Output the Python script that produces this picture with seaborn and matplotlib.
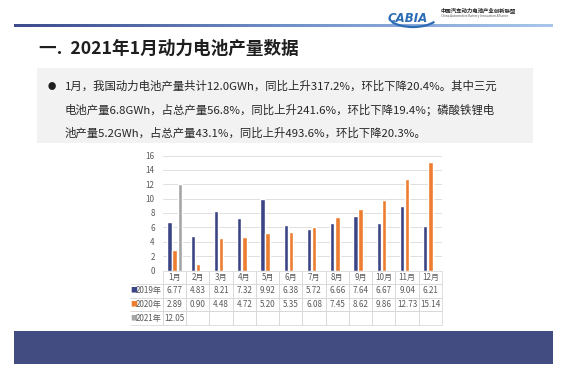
import matplotlib.pyplot as plt
import pandas as pd
import seaborn as sns
from matplotlib.colors import LinearSegmentedColormap
from matplotlib.patches import Arc, Rectangle
import numpy as np

# 数据
months = ["1月", "2月", "3月", "4月", "5月", "6月",
          "7月", "8月", "9月", "10月", "11月", "12月"]
years = ["2019年", "2020年", "2021年"]
prod_2019 = [6.77, 4.83, 8.21, 7.32, 9.92, 6.38, 5.72, 6.66, 7.64, 6.67, 9.04, 6.21]
prod_2020 = [2.89, 0.90, 4.48, 4.72, 5.20, 5.35, 6.08, 7.45, 8.62, 9.86, 12.73, 15.14]
prod_2021 = [12.05]

palette = {"2019年": "#3b4586", "2020年": "#ed7d31", "2021年": "#a5a5a5"}

title = "一.  2021年1月动力电池产量数据"
bullet_lines = [
    "1月，我国动力电池产量共计12.0GWh，同比上升317.2%，环比下降20.4%。其中三元",
    "电池产量6.8GWh，占总产量56.8%，同比上升241.6%，环比下降19.4%；磷酸铁锂电",
    "池产量5.2GWh，占总产量43.1%，同比上升493.6%，环比下降20.3%。",
]

sns.set_theme(style="white")
plt.rcParams["font.family"] = ["Noto Sans CJK SC", "DejaVu Sans"]
plt.rcParams["axes.unicode_minus"] = False

rows = []
for year, values in zip(years, [prod_2019, prod_2020, prod_2021]):
    for m, v in zip(months, values):
        rows.append({"月份": m, "年份": year, "产量": v})
df = pd.DataFrame(rows)

fig = plt.figure(figsize=(5.67, 3.79), dpi=100)

# 幻灯片背景装饰（像素坐标）
bg = fig.add_axes([0, 0, 1, 1])
bg.set_xlim(0, 567)
bg.set_ylim(379, 0)
bg.axis("off")

grad = np.linspace(0, 1, 256).reshape(1, -1)
cmap = LinearSegmentedColormap.from_list("hdr", ["#3d4b8c", "#6f8fc8", "#a9c6ea"])
bg.imshow(grad, cmap=cmap, aspect="auto", extent=[14, 553, 27.3, 25.2])
bg.add_patch(Rectangle((14, 330.5), 539, 33.5, color="#424c80", lw=0))
bg.add_patch(Rectangle((37, 68), 496, 75, color="#f2f2f2", lw=0))

bg.add_patch(Arc((413, 16), 50, 22, theta1=15, theta2=165, color="#2b6cb5", lw=1.6))
bg.text(408, 18, "CABIA", fontsize=8.5, fontstyle="italic", fontweight="bold",
        color="#2b6cb5", ha="center", va="center", family="DejaVu Sans")
bg.text(441, 10, "中国汽车动力电池产业创新联盟", fontsize=3.9, fontweight="bold",
        color="#222222", va="center")
bg.text(441, 16, "China Automotive Battery Innovation Alliance", fontsize=2.3,
        color="#555555", va="center")

bg.text(39, 49, title, fontsize=12.7, fontweight="bold", color="#1e1e1e", va="center")
bg.text(52, 86, "●", fontsize=6, color="#1e1e1e", va="center", ha="center")
for y, line in zip([86, 110, 133], bullet_lines):
    bg.text(65, y, line, fontsize=8.2, color="#262626", va="center")

# 柱状图
ax = fig.add_axes([163 / 567, 1 - 270.5 / 379, 279 / 567, 115 / 379])
sns.barplot(data=df, x="月份", y="产量", hue="年份", order=months,
            hue_order=years, palette=palette, saturation=1,
            width=0.66, gap=0.16, legend=False, ax=ax)
ax.set_ylim(0, 16)
ax.set_yticks(range(0, 17, 2))
ax.yaxis.grid(True, color="#d9d9d9", linewidth=0.6)
ax.set_axisbelow(True)
for s in ax.spines.values():
    s.set_visible(False)
ax.set_xlabel("")
ax.set_ylabel("")
ax.set_xticks([])
ax.tick_params(axis="y", length=0, pad=6, labelsize=5.8, labelcolor="#595959")

# 数据表
label_w = 33 / 279
tbl_h = 54.5 / 115
cell_text = [
    [""] + [f"{v:.2f}" for v in prod_2019],
    [""] + [f"{v:.2f}" for v in prod_2020],
    [""] + [f"{v:.2f}" for v in prod_2021] + [""] * (len(months) - len(prod_2021)),
]
tbl = ax.table(cellText=cell_text, colLabels=[""] + months,
               colWidths=[label_w] + [1 / 12] * 12, cellLoc="center",
               bbox=[-label_w, -tbl_h, 1 + label_w, tbl_h])
tbl.auto_set_font_size(False)
tbl.set_fontsize(5.8)
for (r, c), cell in tbl.get_celld().items():
    cell.set_edgecolor("#d9d9d9")
    cell.set_linewidth(0.6)
    cell.set_facecolor("none")
    cell.get_text().set_color("#595959")
    if c == 0:
        cell.visible_edges = "" if r == 0 else "TBR"

row_h = tbl_h / 4
for i, year in enumerate(years):
    yc = -row_h * (i + 1.5)
    ax.text(-label_w + 0.002, yc, "■", color=palette[year], fontsize=5,
            transform=ax.transAxes, va="center", ha="left", clip_on=False)
    ax.text(-label_w + 0.022, yc, year, color="#595959", fontsize=5.8,
            transform=ax.transAxes, va="center", ha="left", clip_on=False)

fig.savefig("out.png", dpi=100)
